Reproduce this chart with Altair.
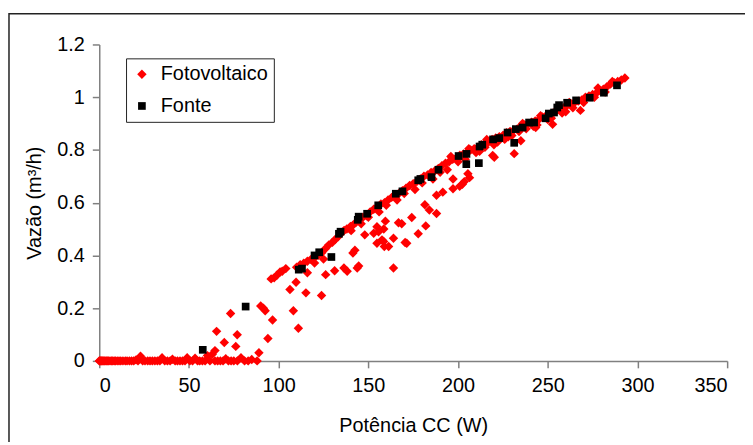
import altair as alt
import pandas as pd

# ---- Fotovoltaico (red diamonds) ----
pv_zero_x = [0, 0.3, 0.6, 1, 1.4, 1.8, 2.3, 2.8, 3.3, 4, 4.6, 5.2, 6, 6.8, 7.5, 8.3, 9, 10, 11, 12,
             13.2, 14.5, 15.5, 16.8, 18, 19.2, 20.5, 21.6, 23, 24.2, 25.5, 27, 28.3, 29.6, 31, 32.4,
             33.8, 35, 36.5, 38, 39.5, 40.8, 42.3, 43.6, 45, 46.4, 47.8, 49, 50.5, 52, 53.4, 54.8,
             56, 57.5, 59, 60.3, 61.7, 63, 64.5, 66, 67.5, 69, 70.5, 72, 73.5, 75, 77, 79, 81, 83, 85, 88]
pv_zero_y = [0, 0, 0, 0, 0, 0, 0, 0, 0, 0, 0, 0, 0, 0, 0, 0, 0, 0, 0, 0,
             0, 0, 0, 0, 0, 0, 0.004, 0, 0.018, 0, 0, 0, 0, 0, 0, 0,
             0, 0.012, 0, 0, 0, 0.006, 0, 0, 0, 0, 0, 0.012, 0, 0, 0.01, 0,
             0, 0, 0, 0.02, 0, 0.025, 0, 0, 0, 0, 0.008, 0, 0, 0, 0, 0.012, 0, 0, 0.005, 0]

pv_scatter_x = [64.5, 65.4, 69.7, 73.2, 76.9, 76.1, 89, 90, 91.5, 92.5, 94, 96.6, 95.8, 100.8,
                106.3, 109.7, 108.2, 111, 115.2, 116, 120, 123.9, 125, 126.2, 131.2, 136.4, 138.2,
                140.4, 141.4, 142.5, 143.8, 144.6, 148, 153, 154.8, 154.8, 155.7, 158.6, 159.5,
                158.5, 158.9, 157.6, 164, 164, 161.3, 166.8, 168.6, 170.5, 171.4, 174.2, 177.8,
                182, 184, 188, 181.5, 188, 191.5, 197.2, 197.2, 200.9, 203.5, 205.5, 206.4, 202.4,
                219.3, 220.2, 231.3, 235, 243.3, 252.7, 268.2]
pv_scatter_y = [0.039, 0.112, 0.07, 0.18, 0.099, 0.055, 0.031, 0.208, 0.2, 0.19, 0.085, 0.155, 0.311, 0.337,
                0.271, 0.298, 0.19, 0.124, 0.258, 0.334, 0.371, 0.248, 0.386, 0.327, 0.342, 0.352, 0.34,
                0.494, 0.409, 0.42, 0.352, 0.36, 0.478, 0.484, 0.446, 0.509, 0.49, 0.5, 0.53,
                0.453, 0.434, 0.459, 0.465, 0.352, 0.434, 0.524, 0.52, 0.449, 0.446, 0.544, 0.482,
                0.512, 0.572, 0.559, 0.592, 0.628, 0.64, 0.653, 0.69, 0.662, 0.68, 0.71, 0.695, 0.67,
                0.779, 0.772, 0.786, 0.835, 0.885, 0.897, 0.95]

pv_band_x = [97.5, 99, 102, 104, 110, 112, 114, 116, 118, 120, 122, 124, 126, 128, 130, 131.5, 133,
             135, 136.5, 138, 140, 141.5, 143, 145, 147, 149, 151, 153, 155, 157, 159, 161, 163,
             165, 167, 169, 171, 173, 175, 177, 179, 181, 183, 185, 187, 189, 191, 193, 195, 197,
             199, 201, 203, 205, 207, 209, 211, 213, 215, 217, 219, 221, 223, 225, 227, 229, 231,
             233, 235, 237, 239, 241, 243, 245, 247, 249, 251, 253, 255, 257, 259, 261, 263, 265,
             267, 269, 271, 273, 275, 277, 279, 281, 283, 285, 287, 289, 291, 293,
             150, 160, 170, 180, 190, 200, 210, 215, 222, 226, 230, 238, 244, 250, 258, 264, 270,
             276, 282, 196, 206, 216, 236, 246, 262, 278, 286,
             146, 156, 166, 176, 186, 194, 204, 212, 220, 228, 234, 242, 252, 260]
pv_band_y = [0.315, 0.325, 0.34, 0.35, 0.355, 0.365, 0.37, 0.378, 0.385, 0.392, 0.4, 0.41, 0.425, 0.44,
             0.45, 0.46, 0.47, 0.485, 0.495, 0.5, 0.51, 0.515, 0.525, 0.535, 0.545, 0.55, 0.565, 0.575,
             0.585, 0.595, 0.6, 0.61, 0.62, 0.63, 0.635, 0.645, 0.655, 0.665, 0.672, 0.68, 0.69, 0.7,
             0.705, 0.715, 0.72, 0.73, 0.74, 0.75, 0.755, 0.765, 0.77, 0.78, 0.785, 0.79, 0.8, 0.805,
             0.81, 0.82, 0.825, 0.83, 0.84, 0.845, 0.85, 0.855, 0.865, 0.87, 0.875, 0.88, 0.89, 0.895,
             0.9, 0.905, 0.91, 0.915, 0.925, 0.93, 0.935, 0.94, 0.95, 0.955, 0.96, 0.97, 0.975, 0.98,
             0.985, 0.99, 1.0, 1.005, 1.01, 1.015, 1.025, 1.03, 1.04, 1.05, 1.055, 1.06, 1.065, 1.073,
             0.545, 0.59, 0.635, 0.675, 0.715, 0.755, 0.79, 0.81, 0.83, 0.84, 0.855, 0.88, 0.895, 0.915,
             0.94, 0.96, 0.98, 1.0, 1.02, 0.775, 0.805, 0.84, 0.9, 0.93, 0.98, 1.035, 1.06,
             0.52, 0.565, 0.61, 0.65, 0.69, 0.725, 0.765, 0.795, 0.82, 0.85, 0.87, 0.89, 0.92, 0.945]

# ---- Fonte (black squares) ----
src_x = [57.7, 81.6, 111.2, 113, 120, 122.6, 129.4, 133.6, 134.5, 144.1, 144.6, 149.3, 155.5, 165.3,
         169, 177.8, 179, 185.2, 189.1, 200.3, 204.7, 204.6, 211.6, 212, 213.5, 219.5, 223, 227.6,
         231.3, 232.2, 236, 239.6, 242.4, 248.8, 250.6, 253.5, 255.3, 256.3, 260.8, 265.8, 273.4,
         281.3, 288.6]
src_y = [0.042, 0.206, 0.346, 0.35, 0.4, 0.412, 0.394, 0.482, 0.49, 0.535, 0.547, 0.558, 0.59, 0.634,
         0.643, 0.685, 0.69, 0.697, 0.725, 0.777, 0.785, 0.746, 0.75, 0.813, 0.82, 0.84, 0.845, 0.866,
         0.827, 0.879, 0.885, 0.904, 0.904, 0.92, 0.938, 0.942, 0.961, 0.97, 0.979, 0.988, 0.998,
         1.017, 1.045]

series_names = ["Fotovoltaico", "Fonte"]
x_ticks = [0, 50, 100, 150, 200, 250, 300, 350]
y_ticks = [0, 0.2, 0.4, 0.6, 0.8, 1, 1.2]

pv_x = pv_zero_x + pv_scatter_x + pv_band_x
pv_y = pv_zero_y + pv_scatter_y + pv_band_y
df = pd.DataFrame({
    "x": pv_x + src_x,
    "y": pv_y + src_y,
    "s": [series_names[0]] * len(pv_x) + [series_names[1]] * len(src_x),
})
df["o"] = range(len(df))

FONT = "Liberation Sans"

points = alt.Chart(df).mark_point(filled=True, opacity=1, strokeWidth=0).encode(
    x=alt.X("x:Q", scale=alt.Scale(domain=[0, 350], nice=False),
            axis=alt.Axis(values=x_ticks, title="Potência CC (W)", grid=False,
                          titlePadding=20)),
    y=alt.Y("y:Q", scale=alt.Scale(domain=[0, 1.2], nice=False),
            axis=alt.Axis(values=y_ticks, format="~g", title="Vazão (m³/h)", grid=False,
                          titlePadding=12)),
    color=alt.Color("s:N", scale=alt.Scale(domain=series_names, range=["#ff0000", "#000000"]),
                    legend=alt.Legend(title=None, orient="none", legendX=27, legendY=14)),
    shape=alt.Shape("s:N", scale=alt.Scale(domain=series_names, range=["diamond", "square"]),
                    legend=alt.Legend(title=None, orient="none", legendX=27, legendY=14)),
    size=alt.Size("s:N", scale=alt.Scale(domain=series_names, range=[90, 60]), legend=None),
    order=alt.Order("o:Q"),
)

frame = alt.Chart(pd.DataFrame({"a": [0]})).mark_rect(
    fillOpacity=0, stroke="#222222", strokeWidth=1.5
).encode(
    x=alt.value(-91), x2=alt.value(760), y=alt.value(-31), y2=alt.value(500)
)

chart = alt.layer(frame, points).properties(
    width=633, height=319,
    padding={"left": 92, "top": 35, "right": 18, "bottom": 80},
    autosize=alt.AutoSizeParams(type="none"),
).configure_view(stroke=None).configure_axis(
    labelFont=FONT, titleFont=FONT, labelFontSize=20, titleFontSize=20,
    labelColor="#000", titleColor="#000", titleFontWeight="normal",
    domainColor="#808080", tickColor="#808080", tickSize=7, labelPadding=8,
    domainWidth=1.5, tickWidth=1.5,
).configure_legend(
    labelFont=FONT, labelFontSize=20, labelColor="#000", symbolSize=40,
    strokeColor="#222222", padding=6, rowPadding=12, labelOffset=9,
    symbolStrokeWidth=0,
)

chart.save("out.html", embed_options={"renderer": "svg", "actions": False})
